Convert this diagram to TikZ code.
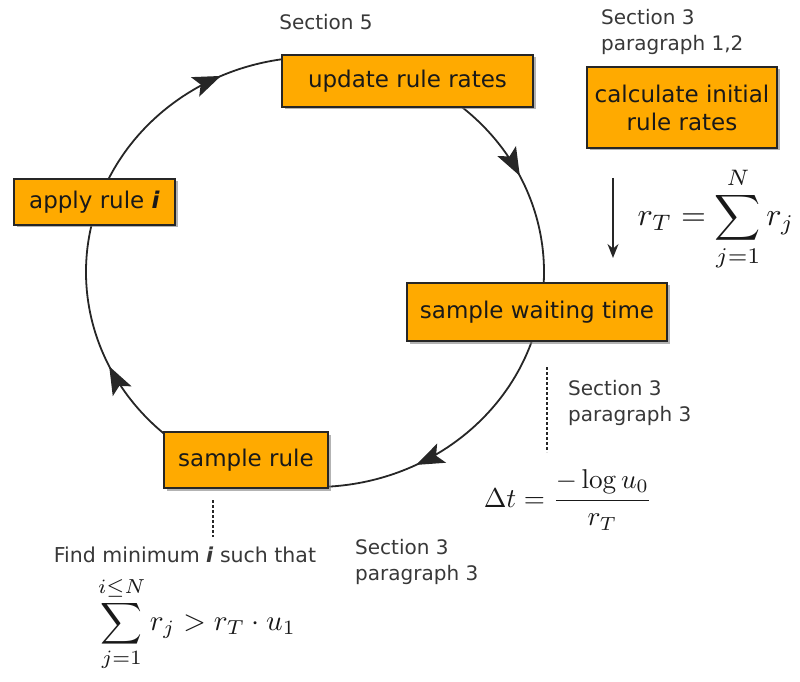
\documentclass[tikz,border=0pt]{standalone}
\usepackage{graphicx}
\usepackage[no-math]{fontspec}
\setmainfont{DejaVu Sans}
\usetikzlibrary{arrows.meta,decorations.markings,shadows,calc}
\definecolor{boxfill}{HTML}{FFAA00}
\definecolor{labelgray}{HTML}{383838}
\tikzset{
  stepbox/.style={draw=black!85, line width=1.6pt, fill=boxfill, inner sep=0pt,
    align=center, text=black!90, font=\fontsize{23}{28}\selectfont,
    drop shadow={shadow xshift=2.5pt, shadow yshift=-2.5pt, opacity=0.6}},
  lbl/.style={text=labelgray, align=left, inner sep=0pt, font=\fontsize{20}{26}\selectfont},
  ring/.style={line width=1.8pt, draw=black!85},
  ringarrow/.style={ring, postaction={decorate}, decoration={markings,
    mark=at position #1 with {\arrow{Stealth[length=28pt,width=21pt,inset=6pt]}}}},
  dashline/.style={line width=1.5pt, dash pattern=on 3pt off 2pt, draw=black!85},
  mathnode/.style={inner sep=0pt, text=black!90},
}
\begin{document}
\begin{tikzpicture}[x=1pt,y=1pt]
\useasboundingbox (0,0) rectangle (800,681);
\coordinate (c) at (315,409);
% ring arcs
\draw[ringarrow=0.70] ($(c)+(158:229pt and 215pt)$) arc[start angle=158, end angle=96, x radius=229pt, y radius=215pt];
\draw[ringarrow=0.48] ($(c)+(55:229pt and 215pt)$) arc[start angle=55, end angle=-5, x radius=229pt, y radius=215pt];
\draw[ringarrow=0.63] ($(c)+(-16:229pt and 215pt)$) arc[start angle=-16, end angle=-91, x radius=229pt, y radius=215pt];
\draw[ringarrow=0.42] ($(c)+(-125:229pt and 215pt)$) arc[start angle=-125, end angle=-195, x radius=229pt, y radius=215pt];
% boxes
\node[stepbox, minimum width=251pt, minimum height=52pt] (update) at (407.5,600) {update rule rates};
\node[stepbox, minimum width=190pt, minimum height=81pt] (calc) at (682,573.5) {calculate initial\\rule rates};
\node[stepbox, minimum width=161pt, minimum height=46pt] (apply) at (94.5,479) {apply rule \textbf{\textit{i}}};
\node[stepbox, minimum width=260pt, minimum height=58pt] (wait) at (537,369) {sample waiting time};
\node[stepbox, minimum width=164pt, minimum height=56pt] (rule) at (246,221) {sample rule};
% labels
\node[lbl] (s5) at (326,659) {Section 5};
\node[lbl, anchor=west] (s3a) at (601,649) {Section 3\\paragraph 1,2};
\node[lbl, anchor=west] (s3b) at (568,278) {Section 3\\paragraph 3};
\node[lbl, anchor=west] (s3c) at (355,119) {Section 3\\paragraph 3};
\node[lbl, align=center, font=\fontsize{20.5}{26}\selectfont] (find) at (185,126) {Find minimum \textbf{\textit{i}} such that};
% formulas
\node[mathnode] (frt) at (716,462) {\scalebox{3.2}{$\displaystyle r_T=\sum_{j=1}^{N} r_j$}};
\node[mathnode] (fdt) at (568,181) {\scalebox{2.72}{$\displaystyle \Delta t=\frac{-\log u_0}{r_T}$}};
\node[mathnode] (fsum) at (197,57) {\scalebox{2.9}{$\displaystyle \sum_{j=1}^{i\le N} r_j > r_T\cdot u_1$}};
% arrow and dashed lines
\coordinate (a1) at (613,503);
\coordinate (a2) at (613,423);
\draw[line width=1.5pt, draw=black!85, -{Stealth[length=14pt,width=11pt]}] (a1) -- (a2);
\coordinate (d1) at (547,314);
\coordinate (d2) at (547,229);
\draw[dashline] (d1) -- (d2);
\coordinate (d3) at (213,181);
\coordinate (d4) at (213,144);
\draw[dashline] (d3) -- (d4);
\end{tikzpicture}
\end{document}
